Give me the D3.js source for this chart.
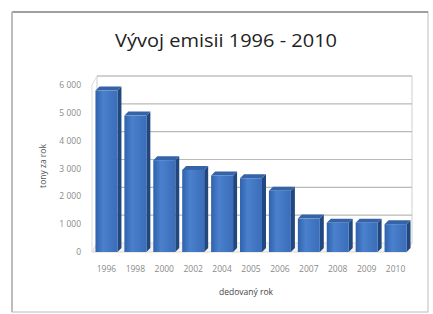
<!DOCTYPE html>
<html>
<head>
<meta charset="utf-8">
<script src="https://cdn.jsdelivr.net/npm/d3@7"></script>
<style>
  body { margin: 0; background: #fff; }
  svg { display: block; font-family: "Open Sans", "DejaVu Sans", sans-serif; }
</style>
</head>
<body>
<script>
// data
const years = ["1996", "1998", "2000", "2002", "2004", "2005", "2006", "2007", "2008", "2009", "2010"];
const emisie = [5800, 4900, 3300, 2950, 2750, 2650, 2200, 1200, 1050, 1050, 1000];
const yTicks = [0, 1000, 2000, 3000, 4000, 5000, 6000];

const W = 433, H = 314;
const svg = d3.select("body").append("svg")
    .attr("width", W)
    .attr("height", H);

const defs = svg.append("defs");
const grad = defs.append("linearGradient").attr("id", "front")
    .attr("x1", 0).attr("x2", 1).attr("y1", 0).attr("y2", 0);
grad.append("stop").attr("offset", "0%").attr("stop-color", "#2f62ad");
grad.append("stop").attr("offset", "35%").attr("stop-color", "#4a80cc");
grad.append("stop").attr("offset", "100%").attr("stop-color", "#3a6dba");

// outer frame
svg.append("rect")
    .attr("x", 12).attr("y", 12)
    .attr("width", 416).attr("height", 300)
    .attr("fill", "#fff")
    .attr("stroke", "#c8c8c8")
    .attr("stroke-width", 1.2);
svg.append("line")
    .attr("x1", 12).attr("x2", 428).attr("y1", 12).attr("y2", 12)
    .attr("stroke", "#8a8a8a").attr("stroke-width", 1.5);
svg.append("line")
    .attr("x1", 12).attr("x2", 12).attr("y1", 12).attr("y2", 312)
    .attr("stroke", "#bdbdbd").attr("stroke-width", 2);

// title
svg.append("text")
    .attr("x", 226).attr("y", 47)
    .attr("text-anchor", "middle")
    .attr("font-size", 19)
    .attr("fill", "#222")
    .attr("textLength", 222)
    .attr("lengthAdjust", "spacingAndGlyphs")
    .text("Vývoj emisii 1996 - 2010");

// scales
const x = d3.scaleBand().domain(years).range([92, 410]).paddingInner(0.24).paddingOuter(0.12);
const y = d3.scaleLinear().domain([0, 6000]).range([252, 85]);
const dX = 5, dY = -9;   // depth of walls
const bX = 4, bY = -4;   // depth of bars

// back wall
const wall = svg.append("g");
wall.append("path")
    .attr("d", `M${92 + dX},${y(0) + dY} V${y(6000) + dY} H${412} V${y(0) + dY}`)
    .attr("fill", "none").attr("stroke", "#cfcfcf");
wall.selectAll("line.grid")
    .data(yTicks.filter(d => d > 0))
    .join("line")
    .attr("class", "grid")
    .attr("x1", 92 + dX).attr("x2", 412)
    .attr("y1", d => y(d) + dY).attr("y2", d => y(d) + dY)
    .attr("stroke", "#b9b9b9").attr("stroke-width", 1.2);
// side wall
wall.append("path")
    .attr("d", `M92,${y(0)} V${y(6000)} L${92 + dX},${y(6000) + dY}`)
    .attr("fill", "none").attr("stroke", "#dcdcdc");
// floor
wall.append("path")
    .attr("d", `M92,${y(0)} L${92 + dX},${y(0) + dY} H412 L${407},${y(0)} Z`)
    .attr("fill", "#f4f4f4").attr("stroke", "#e3d7c6");

// bars
const bars = svg.append("g").selectAll("g")
    .data(years.map((yr, i) => ({ yr, v: emisie[i] })))
    .join("g");
const bw = x.bandwidth();
bars.append("path")   // side
    .attr("d", d => `M${x(d.yr) + bw},${y(0)} V${y(d.v)} l${bX},${bY} V${y(0) + bY} Z`)
    .attr("fill", "#21477f");
bars.append("path")   // top
    .attr("d", d => `M${x(d.yr)},${y(d.v)} l${bX},${bY} h${bw} l${-bX},${-bY} Z`)
    .attr("fill", "#3563a8");
bars.append("rect")   // front
    .attr("x", d => x(d.yr))
    .attr("y", d => y(d.v))
    .attr("width", bw)
    .attr("height", d => y(0) - y(d.v))
    .attr("fill", "url(#front)");

// y axis labels
const fmt = d => d === 0 ? "0" : d3.format(",")(d).replace(",", " ");
svg.append("g").selectAll("text")
    .data(yTicks)
    .join("text")
    .attr("x", 81)
    .attr("y", d => y(d) + 3)
    .attr("text-anchor", "end")
    .attr("font-size", 8.5)
    .attr("fill", "#8a8a8a")
    .text(fmt);

// x axis labels
svg.append("g").selectAll("text")
    .data(years)
    .join("text")
    .attr("x", d => x(d) + bw / 2)
    .attr("y", 272)
    .attr("text-anchor", "middle")
    .attr("font-size", 8.5)
    .attr("fill", "#8a8a8a")
    .text(d => d);

// axis titles
svg.append("text")
    .attr("transform", "translate(46,166) rotate(-90)")
    .attr("text-anchor", "middle")
    .attr("font-size", 8.5)
    .attr("fill", "#555")
    .text("tony za rok");
svg.append("text")
    .attr("x", 246).attr("y", 295)
    .attr("text-anchor", "middle")
    .attr("font-size", 8.5)
    .attr("fill", "#444")
    .text("dedovaný rok");
</script>
</body>
</html>
